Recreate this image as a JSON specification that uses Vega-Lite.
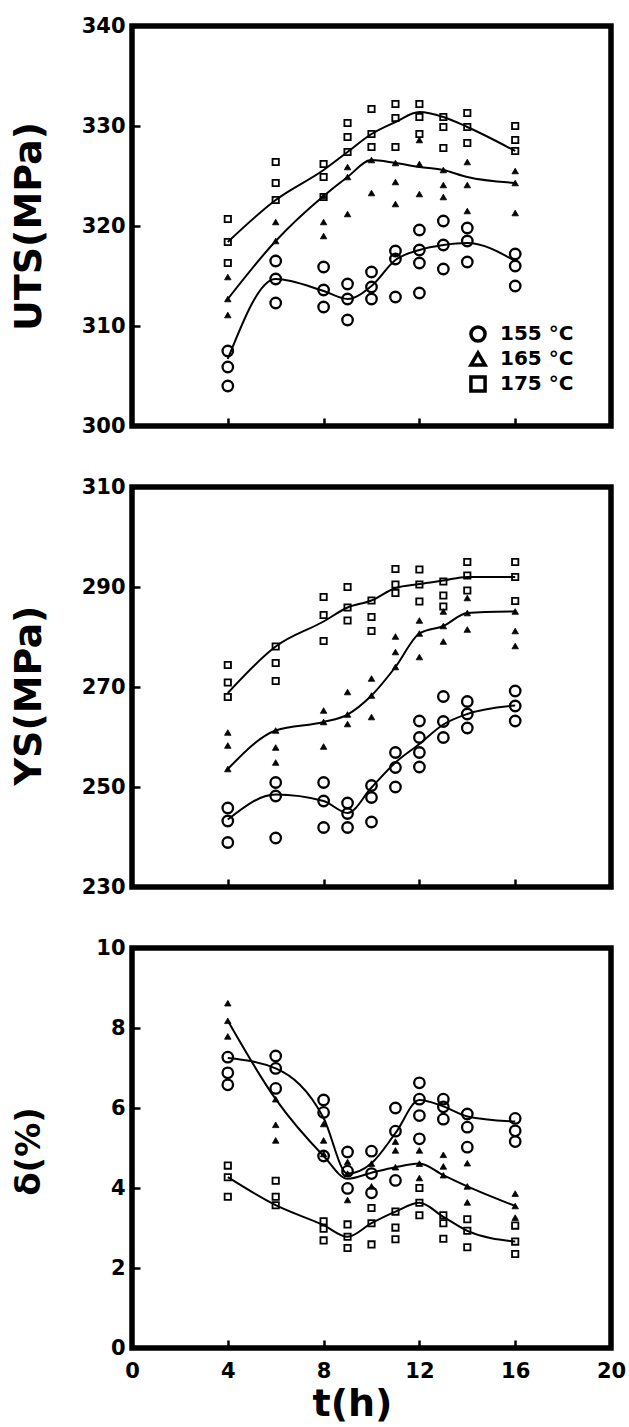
{
  "$schema": "https://vega.github.io/schema/vega-lite/v6.json",
  "background": "white",
  "padding": {"left": 7, "top": 12, "right": 0, "bottom": 0},
  "spacing": 61,
  "bounds": "flush",
  "resolve": {"scale": {"shape": "independent"}, "legend": {"shape": "independent"}},
  "config": {
    "font": "DejaVu Sans",
    "view": {"stroke": "black", "strokeWidth": 5.5},
    "axis": {
      "domain": false, "grid": false, "ticks": true, "tickColor": "black", "tickWidth": 2.5, "tickSize": -8,
      "labelFont": "DejaVu Sans", "labelFontWeight": "bold", "labelFontSize": 21, "labelColor": "black", "labelPadding": 15,
      "titleFont": "DejaVu Sans", "titleFontWeight": "bold", "titleColor": "black", "labelFlush": false
    },
    "legend": {
      "labelFont": "DejaVu Sans", "labelFontWeight": "bold", "labelFontSize": 20, "labelColor": "black",
      "symbolSize": 200, "symbolStrokeWidth": 3.5, "symbolStrokeColor": "black", "rowPadding": -4, "labelOffset": 12, "padding": 0
    }
  },
  "datasets": {
    "uts": [
      {"t":4,"v":307.5,"T":"155 °C"},{"t":4,"v":305.9,"T":"155 °C"},{"t":4,"v":304.0,"T":"155 °C"},
      {"t":6,"v":316.5,"T":"155 °C"},{"t":6,"v":314.7,"T":"155 °C"},{"t":6,"v":312.3,"T":"155 °C"},
      {"t":8,"v":315.9,"T":"155 °C"},{"t":8,"v":313.6,"T":"155 °C"},{"t":8,"v":311.9,"T":"155 °C"},
      {"t":9,"v":314.2,"T":"155 °C"},{"t":9,"v":312.7,"T":"155 °C"},{"t":9,"v":310.6,"T":"155 °C"},
      {"t":10,"v":315.4,"T":"155 °C"},{"t":10,"v":313.9,"T":"155 °C"},{"t":10,"v":312.7,"T":"155 °C"},
      {"t":11,"v":317.5,"T":"155 °C"},{"t":11,"v":316.7,"T":"155 °C"},{"t":11,"v":312.9,"T":"155 °C"},
      {"t":12,"v":319.6,"T":"155 °C"},{"t":12,"v":317.6,"T":"155 °C"},{"t":12,"v":316.3,"T":"155 °C"},{"t":12,"v":313.3,"T":"155 °C"},
      {"t":13,"v":320.5,"T":"155 °C"},{"t":13,"v":318.1,"T":"155 °C"},{"t":13,"v":315.7,"T":"155 °C"},
      {"t":14,"v":319.8,"T":"155 °C"},{"t":14,"v":318.5,"T":"155 °C"},{"t":14,"v":316.4,"T":"155 °C"},
      {"t":16,"v":317.2,"T":"155 °C"},{"t":16,"v":316.0,"T":"155 °C"},{"t":16,"v":314.0,"T":"155 °C"},
      {"t":4,"v":314.9,"T":"165 °C"},{"t":4,"v":312.7,"T":"165 °C"},{"t":4,"v":311.1,"T":"165 °C"},
      {"t":6,"v":320.4,"T":"165 °C"},{"t":6,"v":318.5,"T":"165 °C"},
      {"t":8,"v":323.0,"T":"165 °C"},{"t":8,"v":320.4,"T":"165 °C"},{"t":8,"v":319.0,"T":"165 °C"},
      {"t":9,"v":325.9,"T":"165 °C"},{"t":9,"v":324.9,"T":"165 °C"},{"t":9,"v":321.2,"T":"165 °C"},
      {"t":10,"v":326.6,"T":"165 °C"},{"t":10,"v":323.3,"T":"165 °C"},
      {"t":11,"v":326.3,"T":"165 °C"},{"t":11,"v":324.4,"T":"165 °C"},{"t":11,"v":322.2,"T":"165 °C"},
      {"t":12,"v":328.6,"T":"165 °C"},{"t":12,"v":326.2,"T":"165 °C"},{"t":12,"v":323.2,"T":"165 °C"},
      {"t":13,"v":325.6,"T":"165 °C"},{"t":13,"v":324.1,"T":"165 °C"},{"t":13,"v":322.9,"T":"165 °C"},
      {"t":14,"v":326.4,"T":"165 °C"},{"t":14,"v":324.1,"T":"165 °C"},{"t":14,"v":321.5,"T":"165 °C"},
      {"t":16,"v":325.5,"T":"165 °C"},{"t":16,"v":324.3,"T":"165 °C"},{"t":16,"v":321.3,"T":"165 °C"},
      {"t":4,"v":320.7,"T":"175 °C"},{"t":4,"v":318.4,"T":"175 °C"},{"t":4,"v":316.3,"T":"175 °C"},
      {"t":6,"v":326.4,"T":"175 °C"},{"t":6,"v":324.3,"T":"175 °C"},{"t":6,"v":322.6,"T":"175 °C"},
      {"t":8,"v":326.2,"T":"175 °C"},{"t":8,"v":324.9,"T":"175 °C"},{"t":8,"v":322.9,"T":"175 °C"},
      {"t":9,"v":330.3,"T":"175 °C"},{"t":9,"v":328.9,"T":"175 °C"},{"t":9,"v":327.4,"T":"175 °C"},
      {"t":10,"v":331.7,"T":"175 °C"},{"t":10,"v":329.2,"T":"175 °C"},{"t":10,"v":327.9,"T":"175 °C"},
      {"t":11,"v":332.2,"T":"175 °C"},{"t":11,"v":330.8,"T":"175 °C"},{"t":11,"v":327.9,"T":"175 °C"},
      {"t":12,"v":332.2,"T":"175 °C"},{"t":12,"v":330.9,"T":"175 °C"},{"t":12,"v":329.2,"T":"175 °C"},
      {"t":13,"v":330.9,"T":"175 °C"},{"t":13,"v":329.9,"T":"175 °C"},{"t":13,"v":327.8,"T":"175 °C"},
      {"t":14,"v":331.3,"T":"175 °C"},{"t":14,"v":329.9,"T":"175 °C"},{"t":14,"v":328.3,"T":"175 °C"},
      {"t":16,"v":330.0,"T":"175 °C"},{"t":16,"v":328.6,"T":"175 °C"},{"t":16,"v":327.5,"T":"175 °C"}
    ],
    "uts_fit": [
      {"t":4,"v":306.7,"T":"155 °C"},{"t":6,"v":314.7,"T":"155 °C"},{"t":8,"v":313.5,"T":"155 °C"},{"t":9,"v":312.7,"T":"155 °C"},{"t":10,"v":314.0,"T":"155 °C"},{"t":11,"v":316.6,"T":"155 °C"},{"t":12,"v":317.6,"T":"155 °C"},{"t":13,"v":318.1,"T":"155 °C"},{"t":14,"v":318.3,"T":"155 °C"},{"t":16,"v":316.5,"T":"155 °C"},
      {"t":4,"v":312.7,"T":"165 °C"},{"t":6,"v":318.5,"T":"165 °C"},{"t":8,"v":323.0,"T":"165 °C"},{"t":9,"v":324.9,"T":"165 °C"},{"t":10,"v":326.6,"T":"165 °C"},{"t":11,"v":326.3,"T":"165 °C"},{"t":12,"v":325.9,"T":"165 °C"},{"t":13,"v":325.6,"T":"165 °C"},{"t":14,"v":324.9,"T":"165 °C"},{"t":16,"v":324.3,"T":"165 °C"},
      {"t":4,"v":318.4,"T":"175 °C"},{"t":6,"v":322.6,"T":"175 °C"},{"t":8,"v":325.6,"T":"175 °C"},{"t":9,"v":327.4,"T":"175 °C"},{"t":10,"v":329.2,"T":"175 °C"},{"t":11,"v":330.4,"T":"175 °C"},{"t":12,"v":331.4,"T":"175 °C"},{"t":13,"v":330.9,"T":"175 °C"},{"t":14,"v":329.9,"T":"175 °C"},{"t":16,"v":327.5,"T":"175 °C"}
    ],
    "ys": [
      {"t":4,"v":245.8,"T":"155 °C"},{"t":4,"v":243.2,"T":"155 °C"},{"t":4,"v":238.9,"T":"155 °C"},
      {"t":6,"v":250.9,"T":"155 °C"},{"t":6,"v":248.2,"T":"155 °C"},{"t":6,"v":239.8,"T":"155 °C"},
      {"t":8,"v":250.9,"T":"155 °C"},{"t":8,"v":247.2,"T":"155 °C"},{"t":8,"v":241.9,"T":"155 °C"},
      {"t":9,"v":246.8,"T":"155 °C"},{"t":9,"v":244.7,"T":"155 °C"},{"t":9,"v":241.9,"T":"155 °C"},
      {"t":10,"v":250.3,"T":"155 °C"},{"t":10,"v":247.9,"T":"155 °C"},{"t":10,"v":243.0,"T":"155 °C"},
      {"t":11,"v":256.9,"T":"155 °C"},{"t":11,"v":253.9,"T":"155 °C"},{"t":11,"v":250.0,"T":"155 °C"},
      {"t":12,"v":263.2,"T":"155 °C"},{"t":12,"v":259.9,"T":"155 °C"},{"t":12,"v":256.9,"T":"155 °C"},{"t":12,"v":254.0,"T":"155 °C"},
      {"t":13,"v":268.1,"T":"155 °C"},{"t":13,"v":263.1,"T":"155 °C"},{"t":13,"v":259.9,"T":"155 °C"},
      {"t":14,"v":267.1,"T":"155 °C"},{"t":14,"v":264.6,"T":"155 °C"},{"t":14,"v":261.8,"T":"155 °C"},
      {"t":16,"v":269.2,"T":"155 °C"},{"t":16,"v":266.2,"T":"155 °C"},{"t":16,"v":263.2,"T":"155 °C"},
      {"t":4,"v":260.9,"T":"165 °C"},{"t":4,"v":258.3,"T":"165 °C"},{"t":4,"v":253.6,"T":"165 °C"},
      {"t":6,"v":261.3,"T":"165 °C"},{"t":6,"v":257.9,"T":"165 °C"},{"t":6,"v":254.9,"T":"165 °C"},
      {"t":8,"v":265.3,"T":"165 °C"},{"t":8,"v":263.0,"T":"165 °C"},{"t":8,"v":258.1,"T":"165 °C"},
      {"t":9,"v":269.0,"T":"165 °C"},{"t":9,"v":264.5,"T":"165 °C"},{"t":9,"v":262.6,"T":"165 °C"},
      {"t":10,"v":271.7,"T":"165 °C"},{"t":10,"v":268.3,"T":"165 °C"},{"t":10,"v":264.0,"T":"165 °C"},
      {"t":11,"v":280.1,"T":"165 °C"},{"t":11,"v":277.0,"T":"165 °C"},{"t":11,"v":274.0,"T":"165 °C"},
      {"t":12,"v":283.3,"T":"165 °C"},{"t":12,"v":280.7,"T":"165 °C"},{"t":12,"v":276.0,"T":"165 °C"},
      {"t":13,"v":285.1,"T":"165 °C"},{"t":13,"v":282.2,"T":"165 °C"},{"t":13,"v":279.1,"T":"165 °C"},
      {"t":14,"v":287.8,"T":"165 °C"},{"t":14,"v":284.8,"T":"165 °C"},{"t":14,"v":281.5,"T":"165 °C"},
      {"t":16,"v":285.1,"T":"165 °C"},{"t":16,"v":281.2,"T":"165 °C"},{"t":16,"v":278.2,"T":"165 °C"},
      {"t":4,"v":274.4,"T":"175 °C"},{"t":4,"v":270.9,"T":"175 °C"},{"t":4,"v":268.0,"T":"175 °C"},
      {"t":6,"v":278.1,"T":"175 °C"},{"t":6,"v":274.8,"T":"175 °C"},{"t":6,"v":271.2,"T":"175 °C"},
      {"t":8,"v":288.0,"T":"175 °C"},{"t":8,"v":284.4,"T":"175 °C"},{"t":8,"v":279.2,"T":"175 °C"},
      {"t":9,"v":290.0,"T":"175 °C"},{"t":9,"v":285.9,"T":"175 °C"},{"t":9,"v":283.3,"T":"175 °C"},
      {"t":10,"v":287.3,"T":"175 °C"},{"t":10,"v":284.0,"T":"175 °C"},{"t":10,"v":281.2,"T":"175 °C"},
      {"t":11,"v":293.6,"T":"175 °C"},{"t":11,"v":290.5,"T":"175 °C"},{"t":11,"v":288.8,"T":"175 °C"},
      {"t":12,"v":293.5,"T":"175 °C"},{"t":12,"v":290.5,"T":"175 °C"},{"t":12,"v":287.1,"T":"175 °C"},
      {"t":13,"v":291.1,"T":"175 °C"},{"t":13,"v":288.3,"T":"175 °C"},{"t":13,"v":286.1,"T":"175 °C"},
      {"t":14,"v":295.0,"T":"175 °C"},{"t":14,"v":292.3,"T":"175 °C"},{"t":14,"v":289.3,"T":"175 °C"},
      {"t":16,"v":295.0,"T":"175 °C"},{"t":16,"v":292.0,"T":"175 °C"},{"t":16,"v":287.2,"T":"175 °C"}
    ],
    "ys_fit": [
      {"t":4,"v":243.5,"T":"155 °C"},{"t":6,"v":248.5,"T":"155 °C"},{"t":8,"v":247.2,"T":"155 °C"},{"t":9,"v":244.8,"T":"155 °C"},{"t":10,"v":249.9,"T":"155 °C"},{"t":11,"v":254.9,"T":"155 °C"},{"t":12,"v":258.6,"T":"155 °C"},{"t":13,"v":262.5,"T":"155 °C"},{"t":14,"v":264.6,"T":"155 °C"},{"t":16,"v":266.3,"T":"155 °C"},
      {"t":4,"v":253.6,"T":"165 °C"},{"t":6,"v":261.3,"T":"165 °C"},{"t":8,"v":263.0,"T":"165 °C"},{"t":9,"v":264.5,"T":"165 °C"},{"t":10,"v":268.3,"T":"165 °C"},{"t":11,"v":274.0,"T":"165 °C"},{"t":12,"v":280.7,"T":"165 °C"},{"t":13,"v":282.2,"T":"165 °C"},{"t":14,"v":284.8,"T":"165 °C"},{"t":16,"v":285.1,"T":"165 °C"},
      {"t":4,"v":268.8,"T":"175 °C"},{"t":6,"v":278.1,"T":"175 °C"},{"t":8,"v":283.1,"T":"175 °C"},{"t":9,"v":285.9,"T":"175 °C"},{"t":10,"v":287.3,"T":"175 °C"},{"t":11,"v":289.8,"T":"175 °C"},{"t":12,"v":290.6,"T":"175 °C"},{"t":13,"v":291.3,"T":"175 °C"},{"t":14,"v":292.0,"T":"175 °C"},{"t":16,"v":292.0,"T":"175 °C"}
    ],
    "el": [
      {"t":4,"v":7.27,"T":"155 °C"},{"t":4,"v":6.88,"T":"155 °C"},{"t":4,"v":6.58,"T":"155 °C"},
      {"t":6,"v":7.30,"T":"155 °C"},{"t":6,"v":6.99,"T":"155 °C"},{"t":6,"v":6.49,"T":"155 °C"},
      {"t":8,"v":6.20,"T":"155 °C"},{"t":8,"v":5.89,"T":"155 °C"},{"t":8,"v":4.80,"T":"155 °C"},
      {"t":9,"v":4.90,"T":"155 °C"},{"t":9,"v":4.42,"T":"155 °C"},{"t":9,"v":3.99,"T":"155 °C"},
      {"t":10,"v":4.92,"T":"155 °C"},{"t":10,"v":4.36,"T":"155 °C"},{"t":10,"v":3.88,"T":"155 °C"},
      {"t":11,"v":6.00,"T":"155 °C"},{"t":11,"v":5.42,"T":"155 °C"},{"t":11,"v":4.19,"T":"155 °C"},
      {"t":12,"v":6.63,"T":"155 °C"},{"t":12,"v":6.22,"T":"155 °C"},{"t":12,"v":5.81,"T":"155 °C"},{"t":12,"v":5.23,"T":"155 °C"},
      {"t":13,"v":6.22,"T":"155 °C"},{"t":13,"v":6.03,"T":"155 °C"},{"t":13,"v":5.72,"T":"155 °C"},
      {"t":14,"v":5.85,"T":"155 °C"},{"t":14,"v":5.52,"T":"155 °C"},{"t":14,"v":5.02,"T":"155 °C"},
      {"t":16,"v":5.74,"T":"155 °C"},{"t":16,"v":5.43,"T":"155 °C"},{"t":16,"v":5.16,"T":"155 °C"},
      {"t":4,"v":8.62,"T":"165 °C"},{"t":4,"v":8.18,"T":"165 °C"},{"t":4,"v":7.79,"T":"165 °C"},
      {"t":6,"v":6.22,"T":"165 °C"},{"t":6,"v":5.58,"T":"165 °C"},{"t":6,"v":5.19,"T":"165 °C"},
      {"t":8,"v":5.60,"T":"165 °C"},{"t":8,"v":5.19,"T":"165 °C"},{"t":8,"v":4.85,"T":"165 °C"},
      {"t":9,"v":4.65,"T":"165 °C"},{"t":9,"v":4.36,"T":"165 °C"},{"t":9,"v":3.70,"T":"165 °C"},
      {"t":10,"v":4.61,"T":"165 °C"},{"t":10,"v":4.04,"T":"165 °C"},
      {"t":11,"v":5.16,"T":"165 °C"},{"t":11,"v":4.94,"T":"165 °C"},{"t":11,"v":4.52,"T":"165 °C"},
      {"t":12,"v":4.94,"T":"165 °C"},{"t":12,"v":4.61,"T":"165 °C"},{"t":12,"v":4.25,"T":"165 °C"},
      {"t":13,"v":4.83,"T":"165 °C"},{"t":13,"v":4.54,"T":"165 °C"},{"t":13,"v":4.32,"T":"165 °C"},
      {"t":14,"v":4.62,"T":"165 °C"},{"t":14,"v":4.04,"T":"165 °C"},{"t":14,"v":3.64,"T":"165 °C"},
      {"t":16,"v":3.86,"T":"165 °C"},{"t":16,"v":3.55,"T":"165 °C"},{"t":16,"v":3.26,"T":"165 °C"},
      {"t":4,"v":4.56,"T":"175 °C"},{"t":4,"v":4.27,"T":"175 °C"},{"t":4,"v":3.78,"T":"175 °C"},
      {"t":6,"v":4.18,"T":"175 °C"},{"t":6,"v":3.78,"T":"175 °C"},{"t":6,"v":3.57,"T":"175 °C"},
      {"t":8,"v":3.17,"T":"175 °C"},{"t":8,"v":2.98,"T":"175 °C"},{"t":8,"v":2.69,"T":"175 °C"},
      {"t":9,"v":3.09,"T":"175 °C"},{"t":9,"v":2.78,"T":"175 °C"},{"t":9,"v":2.50,"T":"175 °C"},
      {"t":10,"v":3.50,"T":"175 °C"},{"t":10,"v":3.12,"T":"175 °C"},{"t":10,"v":2.59,"T":"175 °C"},
      {"t":11,"v":3.41,"T":"175 °C"},{"t":11,"v":3.01,"T":"175 °C"},{"t":11,"v":2.72,"T":"175 °C"},
      {"t":12,"v":4.00,"T":"175 °C"},{"t":12,"v":3.63,"T":"175 °C"},{"t":12,"v":3.32,"T":"175 °C"},
      {"t":13,"v":3.32,"T":"175 °C"},{"t":13,"v":3.12,"T":"175 °C"},{"t":13,"v":2.73,"T":"175 °C"},
      {"t":14,"v":3.22,"T":"175 °C"},{"t":14,"v":2.93,"T":"175 °C"},{"t":14,"v":2.52,"T":"175 °C"},
      {"t":16,"v":3.06,"T":"175 °C"},{"t":16,"v":2.66,"T":"175 °C"},{"t":16,"v":2.35,"T":"175 °C"}
    ],
    "el_fit": [
      {"t":4,"v":7.25,"T":"155 °C"},{"t":6,"v":6.99,"T":"155 °C"},{"t":8,"v":5.75,"T":"155 °C"},{"t":9,"v":4.36,"T":"155 °C"},{"t":10,"v":4.62,"T":"155 °C"},{"t":11,"v":5.37,"T":"155 °C"},{"t":12,"v":6.20,"T":"155 °C"},{"t":13,"v":6.04,"T":"155 °C"},{"t":14,"v":5.79,"T":"155 °C"},{"t":16,"v":5.66,"T":"155 °C"},
      {"t":4,"v":8.18,"T":"165 °C"},{"t":6,"v":6.22,"T":"165 °C"},{"t":8,"v":4.80,"T":"165 °C"},{"t":9,"v":4.23,"T":"165 °C"},{"t":10,"v":4.38,"T":"165 °C"},{"t":11,"v":4.52,"T":"165 °C"},{"t":12,"v":4.61,"T":"165 °C"},{"t":13,"v":4.32,"T":"165 °C"},{"t":14,"v":4.04,"T":"165 °C"},{"t":16,"v":3.55,"T":"165 °C"},
      {"t":4,"v":4.27,"T":"175 °C"},{"t":6,"v":3.57,"T":"175 °C"},{"t":8,"v":3.07,"T":"175 °C"},{"t":9,"v":2.78,"T":"175 °C"},{"t":10,"v":3.12,"T":"175 °C"},{"t":11,"v":3.41,"T":"175 °C"},{"t":12,"v":3.63,"T":"175 °C"},{"t":13,"v":3.28,"T":"175 °C"},{"t":14,"v":2.93,"T":"175 °C"},{"t":16,"v":2.66,"T":"175 °C"}
    ]
  },
  "vconcat": [
    {
      "width": 479, "height": 400,
      "layer": [
        {
          "data": {"name": "uts_fit"},
          "mark": {"type": "line", "color": "black", "strokeWidth": 2, "interpolate": "monotone"},
          "encoding": {
            "x": {"field": "t", "type": "quantitative", "scale": {"domain": [0, 20], "nice": false}, "axis": {"values": [4, 8, 12, 16], "labels": false, "title": null}},
            "y": {"field": "v", "type": "quantitative", "scale": {"domain": [300, 340], "nice": false, "zero": false}, "axis": {"values": [300, 310, 320, 330, 340], "title": "UTS(MPa)", "titleFontSize": 38, "titleX": -103, "titleY": 200, "titleAngle": 270, "titleAlign": "center", "titleBaseline": "middle"}},
            "detail": {"field": "T"}
          }
        },
        {
          "data": {"name": "uts"},
          "transform": [{"filter": "datum.T === '155 °C'"}],
          "mark": {"type": "point", "filled": false, "color": "black", "strokeWidth": 2.3, "size": 110, "opacity": 1},
          "encoding": {
            "x": {"field": "t", "type": "quantitative"},
            "y": {"field": "v", "type": "quantitative"},
            "shape": {"field": "T", "type": "nominal", "scale": {"domain": ["155 °C", "165 °C", "175 °C"], "range": ["circle", "triangle-up", "square"]}, "legend": {"title": null, "orient": "none", "legendX": 336, "legendY": 298, "symbolStrokeColor": "black", "symbolStrokeWidth": 3.5, "encode": {"symbols": {"stroke": {"value": "black"}, "strokeWidth": {"value": 3.5}, "fill": {"condition": {"test": "datum.value === '165 °C'", "value": "black"}, "value": "transparent"}}}}}
          }
        },
        {
          "data": {"name": "uts"},
          "transform": [{"filter": "datum.T === '165 °C'"}],
          "mark": {"type": "point", "filled": true, "color": "black", "stroke": "black", "strokeWidth": 0.8, "size": 42, "opacity": 1},
          "encoding": {
            "x": {"field": "t", "type": "quantitative"},
            "y": {"field": "v", "type": "quantitative"},
            "shape": {"field": "T", "type": "nominal", "scale": {"domain": ["155 °C", "165 °C", "175 °C"], "range": ["circle", "triangle-up", "square"]}, "legend": {"title": null, "orient": "none", "legendX": 336, "legendY": 298, "symbolStrokeColor": "black", "symbolStrokeWidth": 3.5, "encode": {"symbols": {"stroke": {"value": "black"}, "strokeWidth": {"value": 3.5}, "fill": {"condition": {"test": "datum.value === '165 °C'", "value": "black"}, "value": "transparent"}}}}}
          }
        },
        {
          "data": {"name": "uts"},
          "transform": [{"filter": "datum.T === '175 °C'"}],
          "mark": {"type": "point", "filled": false, "color": "black", "strokeWidth": 1.8, "size": 40, "opacity": 1},
          "encoding": {
            "x": {"field": "t", "type": "quantitative"},
            "y": {"field": "v", "type": "quantitative"},
            "shape": {"field": "T", "type": "nominal", "scale": {"domain": ["155 °C", "165 °C", "175 °C"], "range": ["circle", "triangle-up", "square"]}, "legend": {"title": null, "orient": "none", "legendX": 336, "legendY": 298, "symbolStrokeColor": "black", "symbolStrokeWidth": 3.5, "encode": {"symbols": {"stroke": {"value": "black"}, "strokeWidth": {"value": 3.5}, "fill": {"condition": {"test": "datum.value === '165 °C'", "value": "black"}, "value": "transparent"}}}}}
          }
        }
      ]
    },
    {
      "width": 479, "height": 400,
      "layer": [
        {
          "data": {"name": "ys_fit"},
          "mark": {"type": "line", "color": "black", "strokeWidth": 2, "interpolate": "monotone"},
          "encoding": {
            "x": {"field": "t", "type": "quantitative", "scale": {"domain": [0, 20], "nice": false}, "axis": {"values": [4, 8, 12, 16], "labels": false, "title": null}},
            "y": {"field": "v", "type": "quantitative", "scale": {"domain": [230, 310], "nice": false, "zero": false}, "axis": {"values": [230, 250, 270, 290, 310], "title": "YS(MPa)", "titleFontSize": 38, "titleX": -103, "titleY": 208, "titleAngle": 270, "titleAlign": "center", "titleBaseline": "middle"}},
            "detail": {"field": "T"}
          }
        },
        {
          "data": {"name": "ys"},
          "transform": [{"filter": "datum.T === '155 °C'"}],
          "mark": {"type": "point", "filled": false, "color": "black", "strokeWidth": 2.3, "size": 110, "opacity": 1},
          "encoding": {
            "x": {"field": "t", "type": "quantitative"},
            "y": {"field": "v", "type": "quantitative"},
            "shape": {"field": "T", "type": "nominal", "scale": {"domain": ["155 °C", "165 °C", "175 °C"], "range": ["circle", "triangle-up", "square"]}, "legend": null}
          }
        },
        {
          "data": {"name": "ys"},
          "transform": [{"filter": "datum.T === '165 °C'"}],
          "mark": {"type": "point", "filled": true, "color": "black", "stroke": "black", "strokeWidth": 0.8, "size": 42, "opacity": 1},
          "encoding": {
            "x": {"field": "t", "type": "quantitative"},
            "y": {"field": "v", "type": "quantitative"},
            "shape": {"field": "T", "type": "nominal", "scale": {"domain": ["155 °C", "165 °C", "175 °C"], "range": ["circle", "triangle-up", "square"]}, "legend": null}
          }
        },
        {
          "data": {"name": "ys"},
          "transform": [{"filter": "datum.T === '175 °C'"}],
          "mark": {"type": "point", "filled": false, "color": "black", "strokeWidth": 1.8, "size": 40, "opacity": 1},
          "encoding": {
            "x": {"field": "t", "type": "quantitative"},
            "y": {"field": "v", "type": "quantitative"},
            "shape": {"field": "T", "type": "nominal", "scale": {"domain": ["155 °C", "165 °C", "175 °C"], "range": ["circle", "triangle-up", "square"]}, "legend": null}
          }
        }
      ]
    },
    {
      "width": 479, "height": 400,
      "layer": [
        {
          "data": {"name": "el_fit"},
          "mark": {"type": "line", "color": "black", "strokeWidth": 2, "interpolate": "monotone"},
          "encoding": {
            "x": {"field": "t", "type": "quantitative", "scale": {"domain": [0, 20], "nice": false}, "axis": {"values": [0, 4, 8, 12, 16, 20], "labelPadding": 20, "title": "t(h)", "titleFontSize": 38, "titleX": 220, "titleY": 56, "titleAlign": "center", "titleBaseline": "middle"}},
            "y": {"field": "v", "type": "quantitative", "scale": {"domain": [0, 10], "nice": false}, "axis": {"values": [0, 2, 4, 6, 8, 10], "title": "δ(%)", "titleFontSize": 34, "titleX": -103, "titleY": 203, "titleAngle": 270, "titleAlign": "center", "titleBaseline": "middle"}},
            "detail": {"field": "T"}
          }
        },
        {
          "data": {"name": "el"},
          "transform": [{"filter": "datum.T === '155 °C'"}],
          "mark": {"type": "point", "filled": false, "color": "black", "strokeWidth": 2.3, "size": 110, "opacity": 1},
          "encoding": {
            "x": {"field": "t", "type": "quantitative"},
            "y": {"field": "v", "type": "quantitative"},
            "shape": {"field": "T", "type": "nominal", "scale": {"domain": ["155 °C", "165 °C", "175 °C"], "range": ["circle", "triangle-up", "square"]}, "legend": null}
          }
        },
        {
          "data": {"name": "el"},
          "transform": [{"filter": "datum.T === '165 °C'"}],
          "mark": {"type": "point", "filled": true, "color": "black", "stroke": "black", "strokeWidth": 0.8, "size": 42, "opacity": 1},
          "encoding": {
            "x": {"field": "t", "type": "quantitative"},
            "y": {"field": "v", "type": "quantitative"},
            "shape": {"field": "T", "type": "nominal", "scale": {"domain": ["155 °C", "165 °C", "175 °C"], "range": ["circle", "triangle-up", "square"]}, "legend": null}
          }
        },
        {
          "data": {"name": "el"},
          "transform": [{"filter": "datum.T === '175 °C'"}],
          "mark": {"type": "point", "filled": false, "color": "black", "strokeWidth": 1.8, "size": 40, "opacity": 1},
          "encoding": {
            "x": {"field": "t", "type": "quantitative"},
            "y": {"field": "v", "type": "quantitative"},
            "shape": {"field": "T", "type": "nominal", "scale": {"domain": ["155 °C", "165 °C", "175 °C"], "range": ["circle", "triangle-up", "square"]}, "legend": null}
          }
        }
      ]
    }
  ]
}
